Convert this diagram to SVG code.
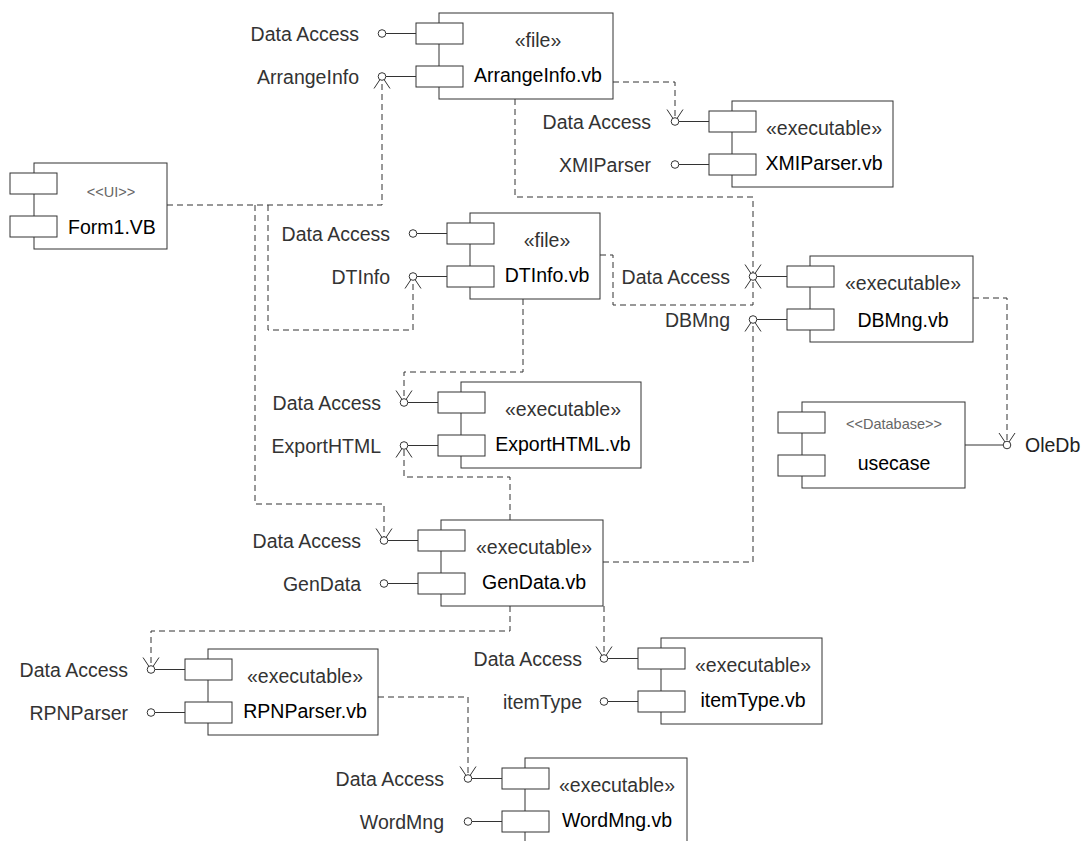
<svg xmlns="http://www.w3.org/2000/svg" width="1090" height="841" viewBox="0 0 1090 841">
<style>
text{font-family:"Liberation Sans",Arial,sans-serif;font-size:19.5px;fill:#222}
.lbl{text-anchor:end;fill:#333}
.st{text-anchor:middle;fill:#333}
.nm{text-anchor:middle;fill:#000}
.sm{text-anchor:middle;font-size:14.5px;fill:#666}
.box{fill:#fff;stroke:#333;stroke-width:1}
.ln{stroke:#333;stroke-width:1;fill:none}
.lp{fill:#fff;stroke:#333;stroke-width:1}
.dep{fill:none;stroke:#333;stroke-width:1;stroke-dasharray:6,4;marker-end:url(#arr)}
</style>
<defs>
<marker id="arr" markerUnits="userSpaceOnUse" markerWidth="30" markerHeight="30" refX="0" refY="0" viewBox="-15 -15 30 30" orient="auto" overflow="visible">
<path d="M-12,-8 L0,0 L-12,8" fill="none" stroke="#333" stroke-width="1" stroke-dasharray="none"/>
</marker>
</defs>
<rect width="1090" height="841" fill="#fff"/>
<g id="connectors">
<path class="dep" d="M167,205 H382 V76.5"/>
<path class="dep" d="M255,205 V504 H384 V540.5"/>
<path class="dep" d="M268,205 V330 H413 V276.5"/>
<path class="dep" d="M613,82 H675 V121.5"/>
<path class="dep" d="M515,99 V197 H753 V276.5"/>
<path class="dep" d="M600,255 H613 V305 H753 V276.5"/>
<path class="dep" d="M523,299 V372 H404 V402.5"/>
<path class="dep" d="M510,520 V477 H404 V445.5"/>
<path class="dep" d="M603,562 H753 V319.5"/>
<path class="dep" d="M973,298 H1007 V445"/>
<path class="dep" d="M510,606 V631 H151 V669.5"/>
<path class="dep" d="M604,606 V658.5"/>
<path class="dep" d="M378,697 H468 V778.5"/>
</g>
<g id="ArrangeInfo">
<rect class="box" x="439" y="13" width="174" height="86"/>
<rect class="box" x="416" y="23" width="47" height="21"/>
<rect class="box" x="416" y="66" width="47" height="21"/>
<line class="ln" x1="386" y1="33.5" x2="416" y2="33.5"/><circle class="lp" cx="382" cy="33.5" r="3.8"/>
<line class="ln" x1="386" y1="76.5" x2="416" y2="76.5"/><circle class="lp" cx="382" cy="76.5" r="3.8"/>
<text class="lbl" x="359" y="41">Data Access</text>
<text class="lbl" x="359" y="84">ArrangeInfo</text>
<text class="st" x="538" y="47">«file»</text>
<text class="nm" x="538" y="82">ArrangeInfo.vb</text>
</g>
<g id="XMIParser">
<rect class="box" x="732" y="101" width="161" height="86"/>
<rect class="box" x="709" y="111" width="47" height="21"/>
<rect class="box" x="709" y="154" width="47" height="21"/>
<line class="ln" x1="679" y1="121.5" x2="709" y2="121.5"/><circle class="lp" cx="675" cy="121.5" r="3.8"/>
<line class="ln" x1="679" y1="164.5" x2="709" y2="164.5"/><circle class="lp" cx="675" cy="164.5" r="3.8"/>
<text class="lbl" x="651" y="129">Data Access</text>
<text class="lbl" x="651" y="172">XMIParser</text>
<text class="st" x="824" y="135">«executable»</text>
<text class="nm" x="824" y="170">XMIParser.vb</text>
</g>
<g id="Form1">
<rect class="box" x="34" y="163" width="133" height="86"/>
<rect class="box" x="10" y="173" width="47" height="21"/>
<rect class="box" x="10" y="216" width="47" height="21"/>
<text class="sm" x="111" y="197">&lt;&lt;UI&gt;&gt;</text>
<text class="nm" x="112" y="234">Form1.VB</text>
</g>
<g id="DTInfo">
<rect class="box" x="470" y="213" width="130" height="86"/>
<rect class="box" x="447" y="223" width="47" height="21"/>
<rect class="box" x="447" y="266" width="47" height="21"/>
<line class="ln" x1="417" y1="233.5" x2="447" y2="233.5"/><circle class="lp" cx="413" cy="233.5" r="3.8"/>
<line class="ln" x1="417" y1="276.5" x2="447" y2="276.5"/><circle class="lp" cx="413" cy="276.5" r="3.8"/>
<text class="lbl" x="390" y="241">Data Access</text>
<text class="lbl" x="390" y="284">DTInfo</text>
<text class="st" x="547" y="247">«file»</text>
<text class="nm" x="547" y="282">DTInfo.vb</text>
</g>
<g id="DBMng">
<rect class="box" x="810" y="256" width="163" height="86"/>
<rect class="box" x="787" y="266" width="47" height="21"/>
<rect class="box" x="787" y="309" width="47" height="21"/>
<line class="ln" x1="757" y1="276.5" x2="787" y2="276.5"/><circle class="lp" cx="753" cy="276.5" r="3.8"/>
<line class="ln" x1="757" y1="319.5" x2="787" y2="319.5"/><circle class="lp" cx="753" cy="319.5" r="3.8"/>
<text class="lbl" x="730" y="284">Data Access</text>
<text class="lbl" x="730" y="327">DBMng</text>
<text class="st" x="903" y="290">«executable»</text>
<text class="nm" x="903" y="327">DBMng.vb</text>
</g>
<g id="ExportHTML">
<rect class="box" x="461" y="382" width="180" height="86"/>
<rect class="box" x="438" y="392" width="47" height="21"/>
<rect class="box" x="438" y="435" width="47" height="21"/>
<line class="ln" x1="408" y1="402.5" x2="438" y2="402.5"/><circle class="lp" cx="404" cy="402.5" r="3.8"/>
<line class="ln" x1="408" y1="445.5" x2="438" y2="445.5"/><circle class="lp" cx="404" cy="445.5" r="3.8"/>
<text class="lbl" x="381" y="410">Data Access</text>
<text class="lbl" x="381" y="453">ExportHTML</text>
<text class="st" x="563" y="416">«executable»</text>
<text class="nm" x="563" y="451">ExportHTML.vb</text>
</g>
<g id="usecase">
<rect class="box" x="802" y="402" width="163" height="86"/>
<rect class="box" x="778" y="412" width="47" height="21"/>
<rect class="box" x="778" y="455" width="47" height="21"/>
<line class="ln" x1="965" y1="445" x2="1003" y2="445"/><circle class="lp" cx="1007" cy="445" r="3.8"/>
<text x="1025" y="452">OleDb</text>
<text class="sm" x="894" y="429">&lt;&lt;Database&gt;&gt;</text>
<text class="nm" x="894" y="470">usecase</text>
</g>
<g id="GenData">
<rect class="box" x="441" y="520" width="162" height="86"/>
<rect class="box" x="418" y="530" width="47" height="21"/>
<rect class="box" x="418" y="573" width="47" height="21"/>
<line class="ln" x1="388" y1="540.5" x2="418" y2="540.5"/><circle class="lp" cx="384" cy="540.5" r="3.8"/>
<line class="ln" x1="388" y1="583.5" x2="418" y2="583.5"/><circle class="lp" cx="384" cy="583.5" r="3.8"/>
<text class="lbl" x="361" y="548">Data Access</text>
<text class="lbl" x="361" y="591">GenData</text>
<text class="st" x="534" y="554">«executable»</text>
<text class="nm" x="534" y="589">GenData.vb</text>
</g>
<g id="RPNParser">
<rect class="box" x="208" y="649" width="170" height="86"/>
<rect class="box" x="185" y="659" width="47" height="21"/>
<rect class="box" x="185" y="702" width="47" height="21"/>
<line class="ln" x1="155" y1="669.5" x2="185" y2="669.5"/><circle class="lp" cx="151" cy="669.5" r="3.8"/>
<line class="ln" x1="155" y1="712.5" x2="185" y2="712.5"/><circle class="lp" cx="151" cy="712.5" r="3.8"/>
<text class="lbl" x="128" y="677">Data Access</text>
<text class="lbl" x="128" y="720">RPNParser</text>
<text class="st" x="305" y="683">«executable»</text>
<text class="nm" x="305" y="718">RPNParser.vb</text>
</g>
<g id="itemType">
<rect class="box" x="661" y="638" width="161" height="86"/>
<rect class="box" x="638" y="648" width="47" height="21"/>
<rect class="box" x="638" y="691" width="47" height="21"/>
<line class="ln" x1="608" y1="658.5" x2="638" y2="658.5"/><circle class="lp" cx="604" cy="658.5" r="3.8"/>
<line class="ln" x1="608" y1="701.5" x2="638" y2="701.5"/><circle class="lp" cx="604" cy="701.5" r="3.8"/>
<text class="lbl" x="582" y="666">Data Access</text>
<text class="lbl" x="582" y="709">itemType</text>
<text class="st" x="753" y="672">«executable»</text>
<text class="nm" x="753" y="707">itemType.vb</text>
</g>
<g id="WordMng">
<rect class="box" x="525" y="758" width="162" height="86"/>
<rect class="box" x="502" y="768" width="47" height="21"/>
<rect class="box" x="502" y="811" width="47" height="21"/>
<line class="ln" x1="472" y1="778.5" x2="502" y2="778.5"/><circle class="lp" cx="468" cy="778.5" r="3.8"/>
<line class="ln" x1="472" y1="821.5" x2="502" y2="821.5"/><circle class="lp" cx="468" cy="821.5" r="3.8"/>
<text class="lbl" x="444" y="786">Data Access</text>
<text class="lbl" x="444" y="829">WordMng</text>
<text class="st" x="617" y="792">«executable»</text>
<text class="nm" x="617" y="827">WordMng.vb</text>
</g>
</svg>
